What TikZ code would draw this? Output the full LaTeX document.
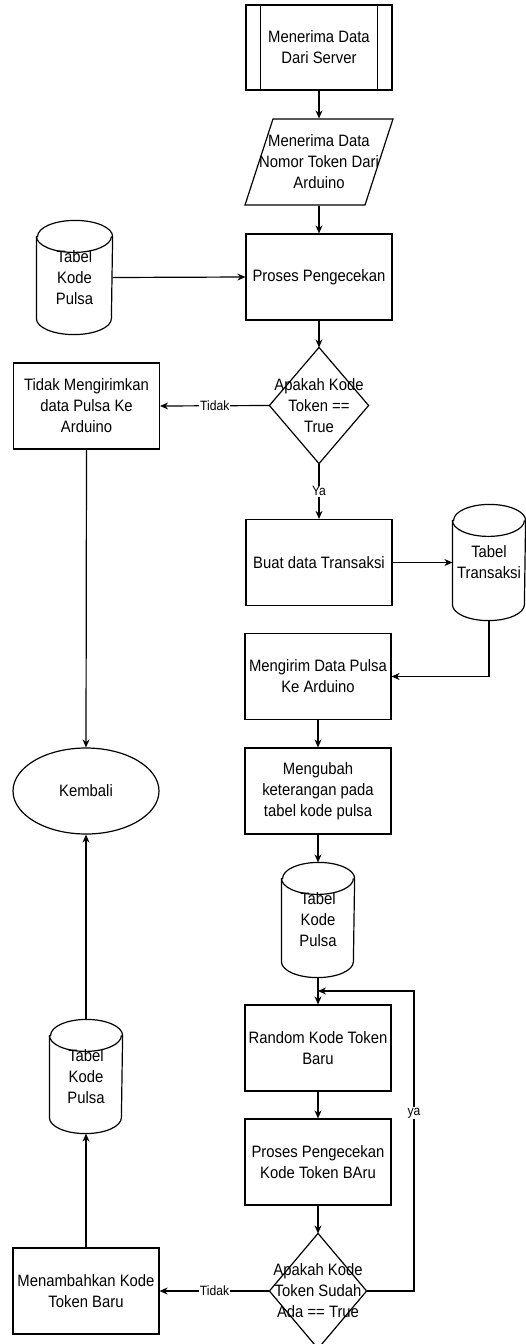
\documentclass[tikz,border=0pt]{standalone}
\usepackage{fontspec}
\setmainfont{Liberation Sans}[FakeStretch=0.9]
\usetikzlibrary{arrows.meta,shapes.geometric}
\newcommand{\drawcyl}[2]{%
  \draw ([yshift=-16pt]#1.north west) -- ([yshift=16pt]#1.south west)
    arc[start angle=180,end angle=360,x radius=#2,y radius=16pt]
    -- ([yshift=-16pt]#1.north east)
    arc[start angle=0,end angle=180,x radius=#2,y radius=16pt] -- cycle;
  \draw ([yshift=-16pt]#1.north west) arc[start angle=180,end angle=360,x radius=#2,y radius=16pt];}
\begin{document}
\begin{tikzpicture}[x=1pt,y=1pt,
  font=\fontsize{16.5}{21}\selectfont,
  line width=1.2pt,
  >={Stealth[length=8pt,width=7pt]},
  box/.style={draw, rectangle, minimum width=146pt, minimum height=86pt, inner sep=0pt, align=center},
  ghost/.style={rectangle, inner sep=0pt, align=center},
  lbl/.style={fill=white, inner sep=1pt, font=\fontsize{13.5}{15}\selectfont}]
\fill[white] (0,0) rectangle (526,-1344);
\useasboundingbox (0,0) rectangle (526,-1344);

% nodes
\node[box, minimum height=85pt] (srv) at (319,-47.5) {Menerima Data\\Dari Server};
\draw ([xshift=15pt]srv.north west) -- ([xshift=15pt]srv.south west);
\draw ([xshift=-15pt]srv.north east) -- ([xshift=-15pt]srv.south east);

\node[ghost, minimum width=120pt, minimum height=86pt] (inp) at (319,-162) {Menerima Data\\Nomor Token Dari\\Arduino};
\draw ([shift={(-46pt,43pt)}]inp.center) -- ([shift={(74pt,43pt)}]inp.center)
  -- ([shift={(46pt,-43pt)}]inp.center) -- ([shift={(-74pt,-43pt)}]inp.center) -- cycle;

\node[box] (chk) at (319,-277) {Proses Pengecekan};

\node[ghost, minimum width=75pt, minimum height=113pt] (tkp1) at (74.5,-277.5) {Tabel\\Kode\\Pulsa};
\drawcyl{tkp1}{37.5pt}

\node[ghost, minimum width=98pt, minimum height=115pt] (d1) at (319,-405.5) {Apakah Kode\\Token ==\\True};
\draw (d1.north) -- (d1.east) -- (d1.south) -- (d1.west) -- cycle;

\node[box] (tdk) at (86.5,-406) {Tidak Mengirimkan\\data Pulsa Ke\\Arduino};

\node[box] (buat) at (319,-562.5) {Buat data Transaksi};

\node[ghost, minimum width=72pt, minimum height=115pt] (ttr) at (489,-562.5) {Tabel\\Transaksi};
\drawcyl{ttr}{36pt}

\node[box] (kirim) at (318,-676.5) {Mengirim Data Pulsa\\Ke Arduino};

\node[box] (ubah) at (318,-791) {Mengubah\\keterangan pada\\tabel kode pulsa};

\node[ghost, minimum width=72pt, minimum height=114pt] (tkp2) at (318,-920) {Tabel\\Kode\\Pulsa};
\drawcyl{tkp2}{36pt}

\node[box] (rand) at (318,-1048) {Random Kode Token\\Baru};

\node[box] (cek2) at (318,-1162) {Proses Pengecekan\\Kode Token BAru};

\node[ghost, minimum width=96pt, minimum height=114pt] (d2) at (318,-1291) {Apakah Kode\\Token Sudah\\Ada == True};
\draw (d2.north) -- (d2.east) -- (d2.south) -- (d2.west) -- cycle;

\node[box] (tamb) at (86,-1291) {Menambahkan Kode\\Token Baru};

\node[ghost, minimum width=72pt, minimum height=113pt] (tkp3) at (86,-1076.5) {Tabel\\Kode\\Pulsa};
\drawcyl{tkp3}{36pt}

\node[draw, ellipse, minimum width=146pt, minimum height=86pt, inner sep=0pt] (kmb) at (86,-791) {Kembali};

\coordinate (lp1) at (414,-1291);
\coordinate (lp2) at (414,-991);
\coordinate (lpend) at (318,-991);

% connectors
\draw[->] (srv.south) -- (inp.north);
\draw[->] (inp.south) -- (chk.north);
\draw[->] (tkp1.east) -- (chk.west);
\draw[->] (chk.south) -- (d1.north);
\draw[->] (d1.west) -- node[lbl]{Tidak} (tdk.east);
\draw[->] (d1.south) -- node[lbl]{Ya} (buat.north);
\draw[->] (buat.east) -- (ttr.west);
\draw[->] (ttr.south) |- (kirim.east);
\draw[->] (kirim.south) -- (ubah.north);
\draw[->] (ubah.south) -- (tkp2.north);
\draw[->] (tkp2.south) -- (rand.north);
\draw[->] (rand.south) -- (cek2.north);
\draw[->] (cek2.south) -- (d2.north);
\draw[->] (d2.west) -- node[lbl]{Tidak} (tamb.east);
\draw[->] (d2.east) -- (lp1) -- node[lbl, pos=0.593]{ya} (lp2) -- (lpend);
\draw[->] (tdk.south) -- (kmb.north);
\draw[->] (tkp3.north) -- (kmb.south);
\draw[->] (tamb.north) -- (tkp3.south);
\end{tikzpicture}
\end{document}
